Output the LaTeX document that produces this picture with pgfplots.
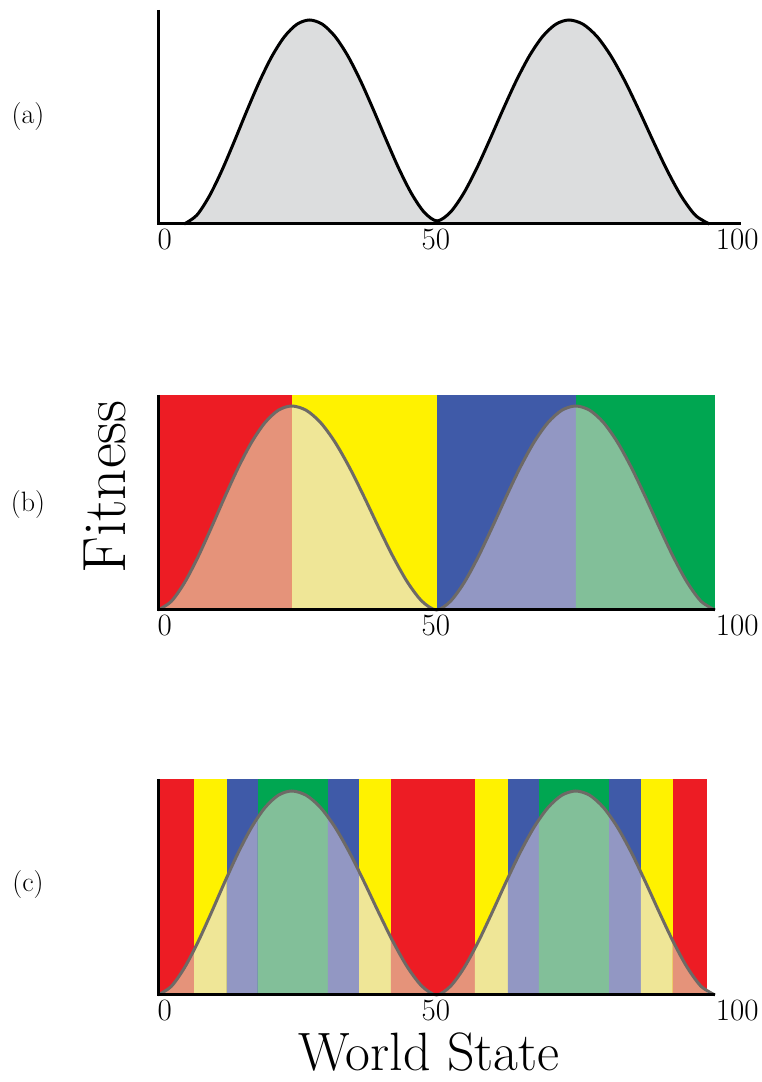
\documentclass[border=0pt]{standalone}
\usepackage{fontspec}
\usepackage{pgfplots}
\usepackage{pgfplotstable}
\pgfplotsset{compat=1.18}

\definecolor{cred}{HTML}{ED1C24}
\definecolor{cyel}{HTML}{FFF200}
\definecolor{cblu}{HTML}{3F5AA8}
\definecolor{cgrn}{HTML}{00A651}
\definecolor{ired}{HTML}{E5937A}
\definecolor{iyel}{HTML}{EFE697}
\definecolor{iblu}{HTML}{9297C3}
\definecolor{igrn}{HTML}{82BF99}
\definecolor{agray}{HTML}{DCDDDE}
\definecolor{lgray}{HTML}{6E6A66}

% panel (a) curve
\pgfplotstableread{
x y
4.7 0
6.95 0.04270
9.2 0.13582
11.45 0.26122
13.7 0.40522
15.95 0.55479
18.2 0.69746
20.45 0.82186
22.7 0.91824
24.95 0.97916
27.2 1
29.49 0.97947
31.78 0.91947
34.07 0.82453
36.36 0.70200
38.65 0.56147
40.94 0.41414
43.23 0.27230
45.52 0.14878
47.81 0.05706
50.1 0.015
52.47 0.05706
54.84 0.14878
57.21 0.27230
59.58 0.41414
61.95 0.56147
64.32 0.70200
66.69 0.82453
69.06 0.91947
71.43 0.97947
73.8 1
76.32 0.97916
78.84 0.91824
81.36 0.82186
83.88 0.69746
86.4 0.55479
88.92 0.40522
91.44 0.26122
93.96 0.13582
96.48 0.04270
99 0
}\curveA

% panels (b) and (c) curve
\pgfplotstableread{
x y
0 0
2.4 0.04270
4.8 0.13582
7.2 0.26122
9.6 0.40522
12 0.55479
14.4 0.69746
16.8 0.82186
19.2 0.91824
21.6 0.97916
24 1
26.6 0.97916
29.2 0.91824
31.8 0.82186
34.4 0.69746
37 0.55479
39.6 0.40522
42.2 0.26122
44.8 0.13582
47.4 0.04270
50 0
52.5 0.04270
55 0.13582
57.5 0.26122
60 0.40522
62.5 0.55479
65 0.69746
67.5 0.82186
70 0.91824
72.5 0.97916
75 1
77.5 0.97916
80 0.91824
82.5 0.82186
85 0.69746
87.5 0.55479
90 0.40522
92.5 0.26122
95 0.13582
97.5 0.04270
100 0
}\curveB

\newcommand{\band}[4]{\addplot[fill=#1, draw=none] coordinates {(#2,#4) (#3,#4)} \closedcycle;}
\newcommand{\piece}[2]{\addplot[fill=#1, draw=none] coordinates {#2} \closedcycle;}

\pgfplotsset{panel/.style={
  x=5.57pt, y=204pt, xmin=0, xmax=104.7, ymin=0,
  axis lines*=left, axis line style={draw=none},
  xtick={1.2,49.9,104}, xticklabels={0,50,100}, ytick=\empty,
  major tick length=0pt, clip=false, anchor=south west,
  xticklabel style={font=\fontsize{31}{34}\selectfont, inner sep=0pt, anchor=north, yshift=-5pt},
}}

\begin{document}
\begin{tikzpicture}
\useasboundingbox (0,0) rectangle (762pt,1082pt);

% ---------- (a) ----------
\begin{axis}[panel, at={(158pt,858pt)}, ymax=1.05]
\addplot[fill=agray, draw=none, smooth] table[x=x,y=y] {\curveA} \closedcycle;
\addplot[black, line width=3pt, smooth] table[x=x,y=y] {\curveA};
\draw[black, line width=3pt] (axis cs:0,1.05) -- (axis cs:0,0) -- (axis cs:104.7,0);
\end{axis}

% ---------- (b) ----------
\begin{axis}[panel, at={(158pt,472pt)}, ymax=1.055]
\band{cred}{0}{24}{1.055}
\band{cyel}{24}{50}{1.055}
\band{cblu}{50}{75}{1.055}
\band{cgrn}{75}{100}{1.055}
\addplot[fill=ired, draw=none, restrict x to domain=0:24] table[x=x,y=y] {\curveB} \closedcycle;
\addplot[fill=iyel, draw=none, restrict x to domain=24:50] table[x=x,y=y] {\curveB} \closedcycle;
\addplot[fill=iblu, draw=none, restrict x to domain=50:75] table[x=x,y=y] {\curveB} \closedcycle;
\addplot[fill=igrn, draw=none, restrict x to domain=75:100] table[x=x,y=y] {\curveB} \closedcycle;
\addplot[lgray, line width=3pt, smooth] table[x=x,y=y] {\curveB};
\draw[black, line width=3pt] (axis cs:0,1.055) -- (axis cs:0,0) -- (axis cs:100,0);
\end{axis}

% ---------- (c) ----------
\begin{axis}[panel, at={(158pt,87pt)}, ymax=1.058]
\band{cred}{0}{6.5}{1.058}
\band{cyel}{6.5}{12.3}{1.058}
\band{cblu}{12.3}{17.9}{1.058}
\band{cgrn}{17.9}{30.5}{1.058}
\band{cblu}{30.5}{36.1}{1.058}
\band{cyel}{36.1}{41.8}{1.058}
\band{cred}{41.8}{56.9}{1.058}
\band{cyel}{56.9}{62.8}{1.058}
\band{cblu}{62.8}{68.4}{1.058}
\band{cgrn}{68.4}{81.0}{1.058}
\band{cblu}{81.0}{86.7}{1.058}
\band{cyel}{86.7}{92.4}{1.058}
\band{cred}{92.4}{98.6}{1.058}
\piece{ired}{(0,0) (2.4,0.04270) (4.8,0.13582) (6.5,0.22214)}
\piece{iyel}{(6.5,0.22214) (7.2,0.26122) (9.6,0.40522) (12,0.55479) (12.3,0.57326)}
\piece{iblu}{(12.3,0.57326) (14.4,0.69746) (16.8,0.82186) (17.9,0.87000)}
\piece{igrn}{(17.9,0.87000) (19.2,0.91824) (21.6,0.97916) (24,1) (26.6,0.97916) (29.2,0.91824) (30.5,0.87405)}
\piece{iblu}{(30.5,0.87405) (31.8,0.82186) (34.4,0.69746) (36.1,0.60556)}
\piece{iyel}{(36.1,0.60556) (37,0.55479) (39.6,0.40522) (41.8,0.28250)}
\piece{ired}{(41.8,0.28250) (42.2,0.26122) (44.8,0.13582) (47.4,0.04270) (50,0) (52.5,0.04270) (55,0.13582) (56.9,0.22888)}
\piece{iyel}{(56.9,0.22888) (57.5,0.26122) (60,0.40522) (62.5,0.55479) (62.8,0.57251)}
\piece{iblu}{(62.8,0.57251) (65,0.69746) (67.5,0.82186) (68.4,0.86023)}
\piece{igrn}{(68.4,0.86023) (70,0.91824) (72.5,0.97916) (75,1) (77.5,0.97916) (80,0.91824) (81,0.88361)}
\piece{iblu}{(81,0.88361) (82.5,0.82186) (85,0.69746) (86.7,0.60177)}
\piece{iyel}{(86.7,0.60177) (87.5,0.55479) (90,0.40522) (92.4,0.26672)}
\piece{ired}{(92.4,0.26672) (95,0.13582) (97.5,0.04270) (98.6,0.01601)}
\addplot[lgray, line width=3pt, smooth] table[x=x,y=y] {\curveB};
\draw[black, line width=3pt] (axis cs:0,1.058) -- (axis cs:0,0) -- (axis cs:100,0);
\end{axis}

% labels
\node[font=\fontsize{28}{30}\selectfont] at (28pt,965pt) {(a)};
\node[font=\fontsize{28}{30}\selectfont] at (28pt,577pt) {(b)};
\node[font=\fontsize{28}{30}\selectfont] at (28pt,197pt) {(c)};
\node[rotate=90, font=\fontsize{61}{64}\selectfont] at (105pt,595pt) {Fitness};
\node[font=\fontsize{54}{58}\selectfont, inner sep=0pt, anchor=base] at (429pt,12pt) {World State};
\end{tikzpicture}
\end{document}
